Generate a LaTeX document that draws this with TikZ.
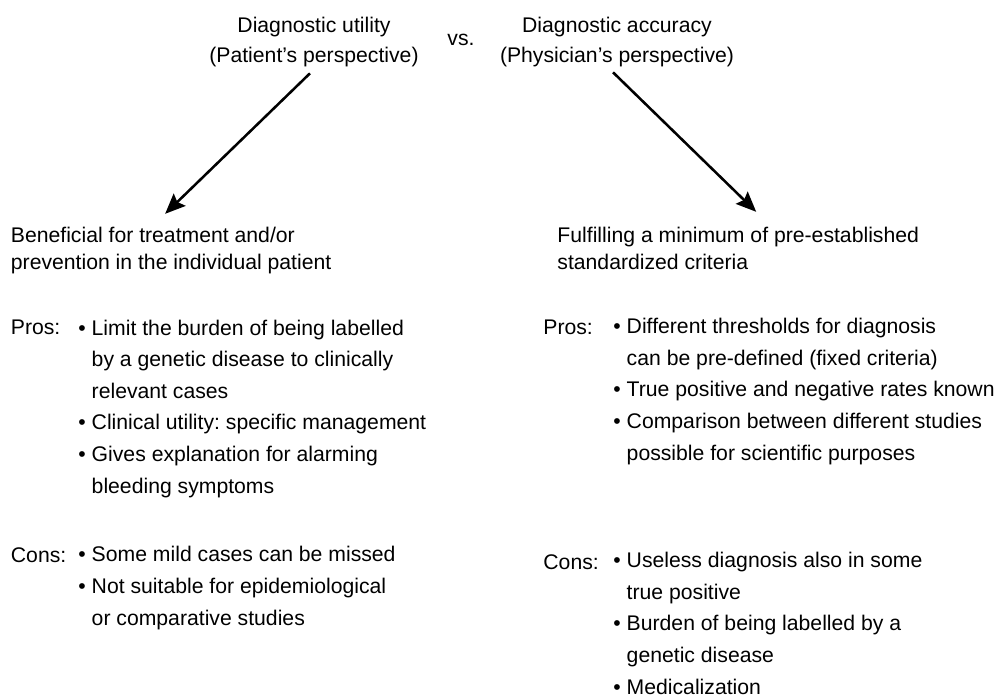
\documentclass[tikz,border=0pt]{standalone}
\usepackage{fontspec}
\setmainfont{Liberation Sans}
\usetikzlibrary{arrows.meta}
\frenchspacing

\begin{document}
\begin{tikzpicture}[x=0.01658cm, y=-0.01658cm,
        font=\fontsize{10}{14.9}\selectfont,
        txt/.style={inner sep=0, anchor=base west, align=left},
        title/.style={inner sep=0, anchor=base, align=center, font=\fontsize{10}{14.2}\selectfont},
        head/.style={txt, font=\fontsize{10}{12.7}\selectfont},
        arr/.style={-{Stealth[length=9.5pt, width=8pt, inset=1.5pt]}, line width=1.2pt}]
        \useasboundingbox (0,0) rectangle (1000,696);
        % the two perspectives (base = last line)
        \node [title] (ltitle) at (314,62.5) {Diagnostic utility\\(Patient’s perspective)};
        \node [title] (vs) at (461,45.5) {vs.};
        \node [title] (rtitle) at (617,62.5) {Diagnostic accuracy\\(Physician’s perspective)};
        % left column
        \node [head] (lhead) at (10.5,269.5) {Beneficial for treatment and/or\\prevention in the individual patient};
        \node [txt] (lpros) at (10.5,334) {Pros:};
        \node [txt] (lproslist) at (78,493) {\textbullet\ Limit the burden of being labelled\\
                \hphantom{\textbullet\ }by a genetic disease to clinically\\
                \hphantom{\textbullet\ }relevant cases\\
                \textbullet\ Clinical utility: specific management\\
                \textbullet\ Gives explanation for alarming\\
                \hphantom{\textbullet\ }bleeding symptoms};
        \node [txt] (lcons) at (10.5,562) {Cons:};
        \node [txt] (lconslist) at (78,625) {\textbullet\ Some mild cases can be missed\\
                \textbullet\ Not suitable for epidemiological\\
                \hphantom{\textbullet\ }or comparative studies};
        % right column
        \node [head] (rhead) at (557,269.5) {Fulfilling a minimum of pre-established\\standardized criteria};
        \node [txt] (rpros) at (543,334) {Pros:};
        \node [txt] (rproslist) at (613,460) {\textbullet\ Different thresholds for diagnosis\\
                \hphantom{\textbullet\ }can be pre-defined (fixed criteria)\\
                \textbullet\ True positive and negative rates known\\
                \textbullet\ Comparison between different studies\\
                \hphantom{\textbullet\ }possible for scientific purposes};
        \node [txt] (rcons) at (543,569) {Cons:};
        \node [txt] (rconslist) at (613,694) {\textbullet\ Useless diagnosis also in some\\
                \hphantom{\textbullet\ }true positive\\
                \textbullet\ Burden of being labelled by a\\
                \hphantom{\textbullet\ }genetic disease\\
                \textbullet\ Medicalization};
        % arrows
        \draw [arr] ([shift={(-4,6)}]ltitle.south) -- ([shift={(-6,-13)}]lhead.north);
        \draw [arr] ([shift={(-4,5)}]rtitle.south) -- ([shift={(18,-15)}]rhead.north);
\end{tikzpicture}
\end{document}
